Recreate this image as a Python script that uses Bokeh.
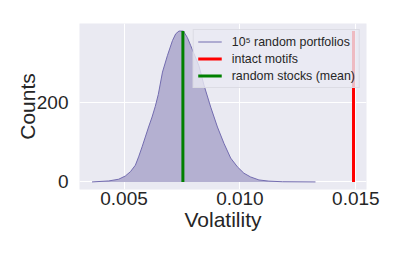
from bokeh.plotting import figure
from bokeh.models import FixedTicker, Legend, LegendItem, NumeralTickFormatter
from bokeh.embed import file_html
from bokeh.resources import INLINE

# KDE-like distribution of volatility over 10^5 random portfolios
vol_x = [0.00362, 0.00434, 0.00477, 0.00506, 0.00528, 0.00549, 0.00563, 0.00578,
         0.00592, 0.00606, 0.00621, 0.00635, 0.00648, 0.00666, 0.00687, 0.00709,
         0.00723, 0.00737, 0.00756, 0.00773, 0.00788, 0.00802, 0.00823, 0.00845,
         0.00874, 0.00903, 0.00931, 0.00960, 0.00989, 0.01017, 0.01046, 0.01082,
         0.01125, 0.01183, 0.01326]
counts = [0, 2.5, 6.8, 15, 26, 42, 63, 88,
          113, 138, 163, 190, 220, 276, 317, 355,
          372, 379, 379, 363, 342, 322, 292, 243,
          188, 138, 97, 60, 38, 22, 12.5, 5,
          2, 0.5, 0]
intact_motifs = 0.01490
random_stocks_mean = 0.00754

x_ticks = [0.005, 0.010, 0.015]
y_ticks = [0, 200]

FONT = "Liberation Sans"

p = figure(frame_width=287, frame_height=166,
           x_range=(0.00308, 0.01546), y_range=(-19, 398),
           output_backend="svg", toolbar_location=None,
           background_fill_color="#EAEAF2", border_fill_color="white",
           outline_line_color=None,
           min_border_left=79, min_border_right=39,
           min_border_top=23, min_border_bottom=64)

peak = max(counts)
r_fill = p.varea(x=vol_x, y1=[0] * len(vol_x), y2=counts,
                 fill_color="#b4b0d1", fill_alpha=1.0)
r_line = p.line(x=vol_x, y=counts, line_color="#736cb0", line_width=1)
r_red = p.segment(x0=[intact_motifs], y0=[0], x1=[intact_motifs], y1=[peak],
                  line_color="red", line_width=3)
r_green = p.segment(x0=[random_stocks_mean], y0=[0], x1=[random_stocks_mean], y1=[peak],
                    line_color="green", line_width=3)

for ax in (p.xaxis[0], p.yaxis[0]):
    ax.axis_line_color = None
    ax.major_tick_line_color = None
    ax.minor_tick_line_color = None
    ax.major_label_text_font = FONT
    ax.major_label_text_font_size = "19px"
    ax.major_label_text_color = "#262626"
    ax.axis_label_text_font = FONT
    ax.axis_label_text_font_size = "21px"
    ax.axis_label_text_font_style = "normal"
    ax.axis_label_text_color = "#262626"

p.xaxis.ticker = FixedTicker(ticks=x_ticks)
p.yaxis.ticker = FixedTicker(ticks=y_ticks)
p.xaxis.formatter = NumeralTickFormatter(format="0.000")
p.xaxis.axis_label = "Volatility"
p.yaxis.axis_label = "Counts"
p.xaxis.major_label_standoff = -4
p.yaxis.major_label_standoff = 5
p.xaxis.axis_label_standoff = 0
p.yaxis.axis_label_standoff = -5

p.xgrid.grid_line_color = "white"
p.ygrid.grid_line_color = "white"
p.xgrid.grid_line_width = 1
p.ygrid.grid_line_width = 1

legend = Legend(items=[
    LegendItem(label="10\u2075 random portfolios", renderers=[r_line]),
    LegendItem(label="intact motifs", renderers=[r_red]),
    LegendItem(label="random stocks (mean)", renderers=[r_green]),
], location="top_right")
legend.label_text_font = FONT
legend.label_text_font_size = "12.4px"
legend.label_text_color = "#262626"
legend.background_fill_color = "#EAEAF2"
legend.background_fill_alpha = 0.8
legend.border_line_color = "#d8d8e0"
legend.border_line_alpha = 0.8
legend.margin = 6
legend.padding = 4
legend.spacing = 2
legend.glyph_width = 24
legend.glyph_height = 15
legend.label_standoff = 10
legend.label_height = 15
p.add_layout(legend, "center")

open("out.html", "w").write(file_html(p, INLINE))
